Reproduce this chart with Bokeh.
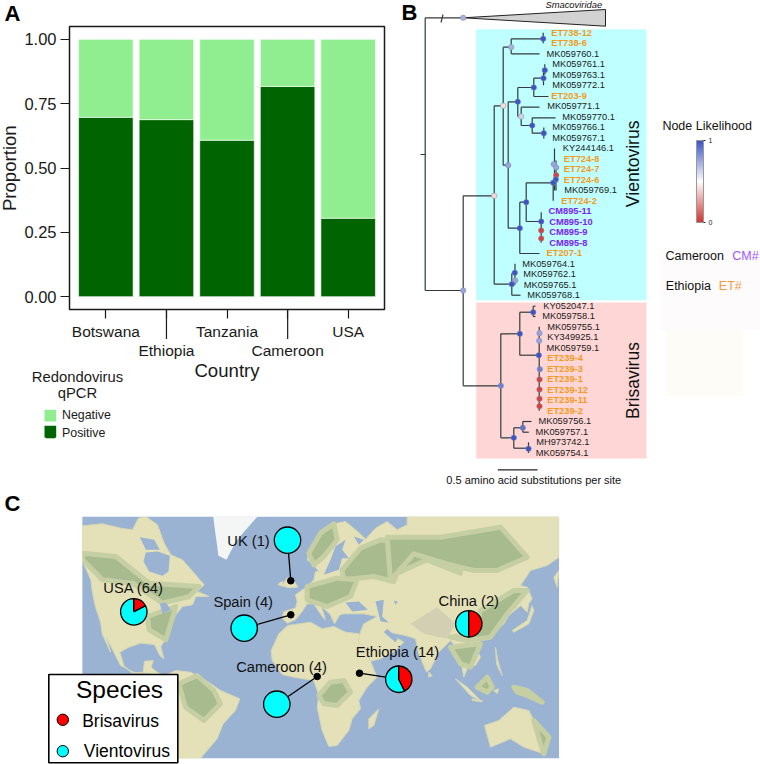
import numpy as np
from bokeh.plotting import figure
from bokeh.embed import file_html
from bokeh.resources import INLINE
from bokeh.core.properties import value
from bokeh.models import (Range1d, FixedTicker, Legend, LegendItem,
                          LinearColorMapper, ColorBar, ColumnDataSource)

FONT = "Liberation Sans"

# ---------- Panel A data
countries = ["Botswana", "Ethiopia", "Tanzania", "Cameroon", "USA"]
positive = [0.697, 0.688, 0.608, 0.817, 0.305]
negative = [0.303, 0.312, 0.392, 0.183, 0.695]

# ---------- Panel B data: tip labels, tip label start, colour group
tip_names = ["ET738-12","ET738-6","MK059760.1","MK059761.1","MK059763.1","MK059772.1","ET203-9",
             "MK059771.1","MK059770.1","MK059766.1","MK059767.1","KY244146.1","ET724-8","ET724-7",
             "ET724-6","MK059769.1","ET724-2","CM895-11","CM895-10","CM895-9","CM895-8","ET207-1",
             "MK059764.1","MK059762.1","MK059765.1","MK059768.1","KY052047.1","MK059758.1",
             "MK059755.1","KY349925.1","MK059759.1","ET239-4","ET239-3","ET239-1","ET239-12",
             "ET239-11","ET239-2","MK059756.1","MK059757.1","MH973742.1","MK059754.1"]
tip_x = [550.7,550.7,546,551.7,551.7,551.7,550.7,546.7,561.7,551.7,551.7,562.3,563.3,563.3,563.3,
         563.7,560.7,548,548.7,548.7,548.7,546,521.7,522.7,523.3,526.7,542.7,541.7,546.7,546.7,
         546,546.7,546.7,546.7,546.7,546.7,546.7,538,535,535.7,535.3]
branches = [
 (424.7,17.3,424.7,290),(424.7,17.3,462.7,17.3),(424.7,290,462.7,290),(420,154,424.7,154),(440.5,22,442.5,14),
 (462.7,195.3,462.7,385.3),(462.7,195.3,493.7,195.3),(493.7,105.3,493.7,283.7),(493.7,105.3,502.7,105.3),
 (493.7,283.7,511.3,283.7),(502.7,46.7,502.7,164.7),(502.7,46.7,510.7,46.7),(510.7,38.3,510.7,53.3),
 (510.7,38.3,542.7,38.3),(542.7,32.3,542.7,42.8),(510.7,53.3,539,53.3),(502.7,164.7,507.7,164.7),
 (507.7,101.3,507.7,227.7),(507.7,101.3,517.3,101.3),(507.7,227.7,519.3,227.7),(517.3,87,517.3,116),
 (517.3,87,533.3,87),(533.3,77.7,533.3,96),(533.3,77.7,543,77.7),(533.3,96,548,96),(543,69.7,543,84.8),
 (544.3,63.8,544.3,74.3),(517.3,116,520.7,116),(520.7,106.7,520.7,125),(520.7,106.7,539,106.7),
 (520.7,125,531.7,125),(531.7,117.3,531.7,132.7),(531.7,117.3,555,117.3),(531.7,132.7,543.3,132.7),
 (543.3,127,543.3,138),(519.3,201.7,519.3,253),(519.3,201.7,525.7,201.7),(519.3,253,539,253),
 (525.7,182.3,525.7,221),(525.7,182.3,552.7,182.3),(525.7,221,540.7,221),(540.7,211.7,540.7,242.3),
 (554,148,554,190),(555.5,160,555.5,190),(552.7,182.3,552.7,200.3),(511.3,273,511.3,294.7),
 (511.3,294.7,520,294.7),(511.3,273,514.5,273),(514.5,263.3,514.5,284.3),(462.7,385.3,500.3,385.3),
 (500.3,333.3,500.3,437.3),(500.3,333.3,519.3,333.3),(500.3,437.3,513.3,437.3),(519.3,311.7,519.3,354.7),
 (519.3,311.7,532.7,311.7),(532.7,305.7,532.7,316),(532.7,305.7,535,305.7),(532.7,316,535,316),
 (519.3,354.7,538.3,354.7),(538.7,326.3,538.7,410.3),(513.3,427.3,513.3,447.7),(513.3,427.3,522.3,427.3),
 (522.3,421,522.3,431.7),(522.3,421,531,421),(522.3,431.7,528.3,431.7),(513.3,447.7,528,447.7),(528,441.8,528,452.5)]
node_x = [462.7,510.7,542.7,502.7,507.7,517.3,533.3,544.3,543,520.7,531.7,543.3,553.3,555.7,555.7,555.3,552.7,
          525.7,519.3,540.7,540.7,540.7,493.7,514.3,514.7,511.3,462.7,500.3,519.3,532.7,538.3,539,538.7,539.3,
          539,539,539,539,513.3,522.3,528]
node_y = [17.3,46.7,38.3,105.3,164.7,101.3,87,69.7,77.7,116,125,132.7,163.7,167,174.7,179,182.3,
          201.7,227.7,221,230,238,195.3,272.3,280,283.7,290,385.3,333.3,311.7,354.7,332.7,340.3,368.7,
          379,389,398.3,405.7,437.3,427.3,448.3]
node_likelihood = [.72,.72,1,.42,.76,1,1,1,1,.62,1,1,.76,.76,.04,1,1,
                   1,1,1,.04,.04,.4,1,.76,1,.76,.86,1,1,1,.76,.76,.86,
                   .04,.04,.04,.04,1,.9,1]

# ---------- Panel C data
sites = ["UK (1)", "USA (64)", "Spain (4)", "Cameroon (4)", "Ethiopia (14)", "China (2)"]
brisavirus = [0, 11, 0, 0, 6, 1]
vientovirus = [1, 53, 4, 4, 8, 1]
pie_x = [287, 133.3, 243.7, 276.3, 398.3, 468.3]
pie_y = [539.7, 611.3, 627.7, 703.7, 678.7, 623.3]
dot_x = [290.3, None, 290.3, 316.7, 359, None]
dot_y = [580.3, None, 614.3, 676, 672.7, None]
label_x = [248, 133, 242.7, 281, 397, 468.3]
label_y = [540.7, 587, 601.7, 666.7, 651.7, 600.3]

Z3, Z4, Z7, Z8, Z9 = (0,490), (380,490), (280,516), (280,640), (82,516)
MAP_L, MAP_R, MAP_T, MAP_B = 81.7, 558.7, 516, 758

def Z(off, pts):
    return [(off[0]+a/3, off[1]+b/3) for a, b in pts]

land = [
 # North America
 Z(Z9,[(0,28),(60,22),(115,35),(150,40),(168,5),(190,0),(225,25),(245,80),(265,115),(300,130),(335,170),(365,205),
       (345,225),(380,240),(340,240),(330,265),(300,270),(280,295),(265,330),(245,375),(235,390)])
 + Z(Z3,[(490,505),(478,495),(462,462),(420,458),(385,470),(358,485),(370,525),(395,548),(428,545),(432,512),
         (458,510),(452,530),(470,545),(490,555),(480,570),(445,548),(405,548),(360,525),(335,475),(318,440),
         (330,485),(305,430),(300,395),(285,350)])
 + Z(Z9,[(30,230),(25,190),(5,145),(0,130)]),
 # South America
 Z(Z3,[(488,558),(525,540),(570,545),(620,572),(660,600),(718,625),(705,660),(668,700),(650,745),(620,780),
       (600,815),(480,815),(520,700),(495,650),(480,595)]),
 # Africa
 Z(Z3,[(812,480),(835,430),(862,405),(930,395),(965,415),(1000,408),(1035,425),(1075,430),(1085,455),(1105,500),
       (1130,560),(1100,590),(1075,630),(1080,655),(1055,685),(1045,720),(1010,765),(985,768),(965,720),(950,650),
       (955,615),(940,570),(880,560),(845,552),(815,510)]),
 # Eurasia
 Z(Z7,[(5,305),(20,320),(45,310),(65,285),(80,262),(100,262),(125,300),(135,310),(122,268),(150,295),(162,322),(178,295),
       (190,292),(250,292),(290,300),(250,322),(240,345),(232,375)])
 + Z(Z8,[(262,35),(270,62),(300,55),(345,30),(370,5),(345,-10),(325,-25),(350,-20),(375,-15),(405,-5),(415,40),
         (438,95),(450,85),(475,35),(510,0)])
 + Z(Z4,[(230,475),(240,505),(250,560),(262,530),(285,525),(300,500),(285,470),(300,450),(335,430),(370,400),(385,375),
         (420,345),(440,365),(445,340),(455,325),(440,290),(420,285),(450,240),(500,225),(540,200),(540,70)])
 + Z(Z7,[(380,-5),(380,25),(350,40),(320,15),(285,35),(255,68),(235,48),(195,15),(160,22),(120,50),(85,110),(80,130),
         (100,145),(115,165),(105,165),(100,190),(80,210),(45,235),(50,255),(45,275),(10,285)]),
 # Australia and islands
 Z(Z4,[(312,705),(355,690),(400,650),(445,660),(460,690),(505,740),(490,790),(430,770),(390,745),(330,770)]),
 Z(Z4,[(395,420),(440,390),(455,345),(460,360),(445,400),(400,425)]),
 Z(Z4,[(225,565),(260,590),(300,630),(270,615)]),
 Z(Z4,[(275,625),(305,630),(305,634),(275,630)]),
 Z(Z4,[(290,590),(320,560),(335,590),(320,605)]),
 Z(Z4,[(400,590),(440,600),(485,635),(440,615),(410,605)]),
 Z(Z4,[(345,470),(352,510),(365,555),(348,520)]),
 Z(Z4,[(340,600),(355,595),(350,610)]),
 Z(Z4,[(145,545),(155,555),(145,560)]),
 Z(Z4,[(520,260),(535,240),(530,290)]),
 Z(Z8,[(295,205),(280,255),(265,265),(265,235)]),
 Z(Z3,[(845,285),(860,262),(880,270),(892,290),(865,292)]),
 Z(Z3,[(832,282),(845,272),(848,288)]),
]
forest = [
 Z(Z9,[(0,110),(100,120),(200,200),(350,210),(320,240),(240,260),(150,200),(60,190),(0,130)]),
 Z(Z9,[(195,300),(280,270),(250,370),(200,340)]),
 Z(Z3,[(535,580),(590,555),(640,600),(660,640),(610,690),(555,650)]),
 Z(Z8,[(115,165),(150,125),(190,120),(210,155),(170,195),(130,190)]),
 Z(Z7,[(185,160),(240,95),(300,70),(380,80),(540,60),(540,170),(440,130),(350,170),(340,195),(280,180),(190,190)]),
 Z(Z4,[(20,140),(180,140),(360,110),(440,200),(350,240),(280,240),(200,220),(100,190),(30,270)]),
 Z(Z7,[(80,210),(170,185),(230,190),(210,240),(140,270),(80,250)]),
 Z(Z4,[(300,360),(400,300),(440,300),(380,370),(330,440),(260,450),(210,440),(280,430)]),
 Z(Z4,[(210,470),(300,460),(270,530),(240,520)]),
 Z(Z7,[(85,110),(120,50),(160,22),(170,70),(130,120),(100,145)]),
 Z(Z4,[(290,590),(320,560),(335,590),(320,605)]),
 Z(Z4,[(400,590),(440,600),(485,635),(440,615),(410,605)]),
 Z(Z4,[(460,690),(505,740),(490,790),(480,760)]),
]
water = [
 Z(Z9,[(190,108),(225,105),(262,118),(258,165),(240,178),(200,165),(183,135)]),
 Z(Z9,[(172,62),(215,70),(232,100),(190,100)]),
 Z(Z9,[(232,262),(250,258),(265,280),(240,292)]),
 Z(Z7,[(150,130),(165,90),(195,70),(185,100),(205,125),(185,125),(175,160),(130,175)]),
 Z(Z7,[(220,60),(250,70),(235,85)]),
 Z(Z7,[(195,258),(235,255),(262,280),(215,285)]),
 Z(Z7,[(285,255),(310,250),(305,300),(325,318),(300,315)]),
 Z(Z7,[(340,252),(352,255),(345,265)]),
 Z(Z8,[(310,-25),(345,5),(352,-5),(320,-35)]),
]
ice = [Z(Z9,[(392,0),(525,0),(490,40),(460,75),(432,130),(408,118),(400,60)])]
highland = [Z(Z4,[(90,400),(170,350),(225,400),(200,445),(130,430)])]

def clip_polys(polys):
    xs = [list(np.clip([q[0] for q in pl], MAP_L, MAP_R)) for pl in polys]
    ys = [list(np.clip([q[1] for q in pl], MAP_T, MAP_B)) for pl in polys]
    return xs, ys

TXT = value(FONT)
def place(left, top):
    return {"position": "absolute", "left": f"{left}px", "top": f"{top}px"}

# ========== Panel A: bars, frame and axes ==========
a = figure(width=395, height=490, output_backend="svg", toolbar_location=None,
           x_range=Range1d(0.4, 5.6), y_range=Range1d(-0.05, 1.05),
           min_border_left=69, min_border_right=11, min_border_top=26, min_border_bottom=181,
           styles=place(0, 0))
a.grid.visible = False
a.outline_line_color = "#1a1a1a"
a.outline_line_width = 1.5
src = ColumnDataSource(dict(x=[1, 2, 3, 4, 5], Positive=positive, Negative=negative))
a.vbar_stack(["Positive", "Negative"], x="x", width=0.9, source=src,
             color=["#006400", "#90EE90"], line_color="white", line_width=0.6)
a.yaxis.ticker = FixedTicker(ticks=[0, .25, .5, .75, 1])
a.yaxis.major_label_overrides = {0: "0.00", .25: "0.25", .5: "0.50", .75: "0.75", 1: "1.00"}
a.xaxis.ticker = FixedTicker(ticks=[1, 2, 3, 4, 5])
a.xaxis.major_label_overrides = {1: countries[0], 2: "", 3: countries[2], 4: "", 5: countries[4]}
a.xaxis.axis_label = "Country"
for ax in (a.xaxis[0], a.yaxis[0]):
    ax.axis_line_color = None
    ax.major_tick_out = 9
    ax.major_tick_in = 0
    ax.minor_tick_line_color = None
    ax.major_tick_line_color = "#1a1a1a"
    ax.major_tick_line_width = 1.2
    ax.major_label_text_font = FONT
    ax.major_label_text_color = "#1a1a1a"
    ax.axis_label_text_font = FONT
    ax.axis_label_text_font_style = "normal"
    ax.axis_label_text_font_size = "18.6px"
    ax.axis_label_text_color = "#1a1a1a"
a.yaxis.major_label_text_font_size = "16.5px"
a.yaxis.major_label_standoff = 4
a.xaxis.major_label_text_font_size = "15.5px"
a.xaxis.major_label_standoff = 4
a.xaxis.axis_label_standoff = 17

# ========== Panel A overlay: what lies outside the frame ==========
a2 = figure(width=395, height=490, output_backend="svg", toolbar_location=None,
            x_range=Range1d(0, 395), y_range=Range1d(490, 0), x_axis_type=None, y_axis_type=None,
            min_border=0, outline_line_color=None, background_fill_color=None, border_fill_color=None,
            styles=place(0, 0))
a2.grid.visible = False
def a2text(x, y, t, size, align="center", style="normal", angle=0, color="#1a1a1a"):
    a2.text([x], [y], text=[t], text_font=TXT, text_font_size=size, text_color=color, text_align=align,
            text_baseline="middle", text_font_style=style, angle=angle)
# long ticks for the lower-row country labels sit under ticks 2 and 4
tick_px = [69 + (i - 0.4) * 60.6 for i in (2, 4)]
a2.segment(tick_px, [309.3, 309.3], tick_px, [338.5, 338.5], line_color="#1a1a1a", line_width=1.2)
a2text(tick_px[0], 350, countries[1], "15.5px")
a2text(tick_px[1], 350, countries[3], "15.5px")
a2text(9, 167.7, "Proportion", "18.6px", angle=np.pi / 2)
a2text(4, 12.7, "A", "22px", align="left", style="bold", color="black")
a2text(77, 376.7, "Redondovirus", "14.8px")
a2text(77, 392.7, "qPCR", "14.8px")
neg_r = a2.quad(left=[44], right=[55.7], top=[409.3], bottom=[421], fill_color="#90EE90", line_color=None)
pos_r = a2.quad(left=[44], right=[55.7], top=[425.3], bottom=[437], fill_color="#006400", line_color=None)
leg = Legend(items=[LegendItem(label="Negative", renderers=[neg_r]), LegendItem(label="Positive", renderers=[pos_r])],
             location=(44, 50), padding=0, margin=0, spacing=4, glyph_width=12, glyph_height=12,
             label_height=12, label_width=40, label_standoff=6, border_line_color=None,
             background_fill_alpha=0, label_text_font=FONT, label_text_font_size="12.4px",
             label_text_color="#1a1a1a")
a2.add_layout(leg)

# ========== Panel B ==========
b = figure(width=365, height=490, output_backend="svg", toolbar_location=None,
           x_range=Range1d(395, 760), y_range=Range1d(490, 0), x_axis_type=None, y_axis_type=None,
           min_border=0, outline_line_color=None, styles=place(395, 0))
b.grid.visible = False
b.quad(left=[475.7], right=[646], top=[28.7], bottom=[299.7], fill_color="#bfffff", line_color=None)
b.quad(left=[475.7], right=[646], top=[302], bottom=[458], fill_color="#ffd6d6", line_color=None)
b.quad(left=[660], right=[760], top=[250], bottom=[330], fill_color="#fefbfc", line_color=None)
b.quad(left=[666], right=[742.7], top=[330], bottom=[395], fill_color="#fdfcf7", line_color=None)
b.patch([462.7, 605, 605], [17.3, 9, 25.7], fill_color="#d2d2d2", line_color="#222222", line_width=1)
bx0, by0, bx1, by1 = zip(*branches)
b.segment(bx0, by0, bx1, by1, line_color="#333a3a", line_width=1.2)

pal = []
for t in np.linspace(0, 1, 128):
    if t < .5:
        c0, c1, f = (0xd2, 0x34, 0x30), (255, 255, 255), t / .5
    else:
        c0, c1, f = (255, 255, 255), (0x3a, 0x54, 0xc8), (t - .5) / .5
    pal.append("#%02x%02x%02x" % tuple(int(c0[k] + (c1[k] - c0[k]) * f) for k in range(3)))
mapper = LinearColorMapper(palette=pal, low=0, high=1)
nsrc = ColumnDataSource(dict(x=node_x, y=node_y, lik=node_likelihood))
b.scatter("x", "y", size=5.5, line_color="#8a8a9a", line_width=0.5,
          fill_color={"field": "lik", "transform": mapper}, source=nsrc)

tip_rows = [32.3 + 10.5 * i for i in range(len(tip_names))]
def tip_color(n):
    return "#f39a1e" if n.startswith("ET") else "#7a22ff" if n.startswith("CM") else "#1a1a1a"
tsrc = ColumnDataSource(dict(x=tip_x, y=tip_rows, t=tip_names, c=[tip_color(n) for n in tip_names],
                             s=["bold" if n[:2] in ("ET", "CM") else "normal" for n in tip_names]))
b.text("x", "y", text="t", text_color="c", text_font_style="s", text_font=TXT, text_font_size="9.3px",
       text_baseline="middle", source=tsrc)
def btext(x, y, t, size, color="#111111", align="center", style="normal", angle=0):
    b.text([x], [y], text=[t], text_font=TXT, text_font_size=size, text_color=color, text_align=align,
           text_baseline="middle", text_font_style=style, angle=angle)
btext(573.3, 4, "Smacoviridae", "9.4px", style="italic")
btext(632.7, 163.3, "Vientovirus", "17.6px", angle=np.pi / 2)
btext(632.7, 380, "Brisavirus", "17.5px", angle=np.pi / 2)
b.segment([497.3], [469.3], [537], [469.3], line_color="#222222", line_width=1.2)
btext(533.3, 479.3, "0.5 amino acid substitutions per site", "11px")
btext(401, 12, "B", "22px", color="black", align="left", style="bold")
btext(706.7, 125.7, "Node Likelihood", "12.5px")
btext(665, 255.3, "Cameroon", "12.5px", align="left")
btext(731.7, 255.3, "CM#", "12.5px", color="#9b59ff", align="left")
btext(665.3, 285.7, "Ethiopia", "12.5px", align="left")
btext(718.3, 285.7, "ET#", "12.5px", color="#f29a3f", align="left")
cb = ColorBar(color_mapper=mapper, ticker=FixedTicker(ticks=[0, 1]), width=7, height=82,
              location=(301, 268), padding=0, margin=0, major_tick_in=0, major_tick_out=2,
              major_tick_line_color="#222222", major_label_text_font=FONT, major_label_text_font_size="7px",
              major_label_text_color="#222222", label_standoff=3, bar_line_color="#999999",
              background_fill_alpha=0, border_line_color=None)
b.add_layout(cb)

# ========== Panel C ==========
c = figure(width=760, height=274, output_backend="svg", toolbar_location=None,
           x_range=Range1d(0, 760), y_range=Range1d(764, 490), x_axis_type=None, y_axis_type=None,
           min_border=0, outline_line_color=None, styles=place(0, 490))
c.grid.visible = False
c.quad(left=[MAP_L], right=[MAP_R], top=[MAP_T], bottom=[MAP_B], fill_color="#9ab3d2", line_color=None)
xs, ys = clip_polys(land)
c.patches(xs, ys, fill_color="#e4e0b8", line_color="#d5d7b5", line_width=1)
xs, ys = clip_polys(forest)
c.patches(xs, ys, fill_color="#a7bb8e", line_color="#c6cfa3", line_width=5, line_join="round")
for polys, col in ((highland, "#d3cfb2"), (water, "#9ab3d2"), (ice, "#f3f6f4")):
    xs, ys = clip_polys(polys)
    c.patches(xs, ys, fill_color=col, line_color=None)
# white surround keeps the softened edges inside the map picture
c.quad(left=[0, MAP_R, 0, 0], right=[MAP_L, 760, 760, 760], top=[490, 490, 490, MAP_B],
       bottom=[764, 764, MAP_T, 764], fill_color="white", line_color=None)
for i in range(len(sites)):
    if dot_x[i] is not None:
        c.line([pie_x[i], dot_x[i]], [pie_y[i], dot_y[i]], line_color="black", line_width=1.3)
        c.circle([dot_x[i]], [dot_y[i]], radius=3.3, fill_color="black", line_color="black")
R = 13.2
for i in range(len(sites)):
    tot = brisavirus[i] + vientovirus[i]
    f = brisavirus[i] / tot
    if f == 0:
        c.circle([pie_x[i]], [pie_y[i]], radius=R, fill_color="#00ffff", line_color="black", line_width=1.3)
    else:
        split = np.pi / 2 - 2 * np.pi * f
        c.wedge([pie_x[i]], [pie_y[i]], radius=R, start_angle=split, end_angle=np.pi / 2 + 2 * np.pi,
                direction="clock", fill_color="#00ffff", line_color="black", line_width=1.3)
        c.wedge([pie_x[i]], [pie_y[i]], radius=R, start_angle=np.pi / 2, end_angle=split,
                direction="clock", fill_color="#ff0000", line_color="black", line_width=1.3)
c.text(label_x, label_y, text=sites, text_font=TXT, text_font_size="14.7px", text_color="#111111",
       text_align="center", text_baseline="middle")
c.quad(left=[48.3], right=[177.3], top=[674], bottom=[762.3], fill_color="white", line_color="black", line_width=1.6)
c.text([119], [689], text=["Species"], text_font=TXT, text_font_size="24.5px", text_color="black",
       text_align="center", text_baseline="middle")
c.circle([62.3, 62.3], [719.3, 750.7], radius=5.7, fill_color=["#ff0000", "#00ffff"], line_color="black", line_width=1)
c.text([81.7, 83.3], [720, 750.7], text=["Brisavirus", "Vientovirus"], text_font=TXT, text_font_size="17.5px",
       text_color="black", text_baseline="middle")
c.text([4], [503], text=["C"], text_font=TXT, text_font_size="22px", text_font_style="bold", text_color="black",
       text_baseline="middle")

open("out.html", "w").write(file_html([a, a2, b, c], INLINE))
